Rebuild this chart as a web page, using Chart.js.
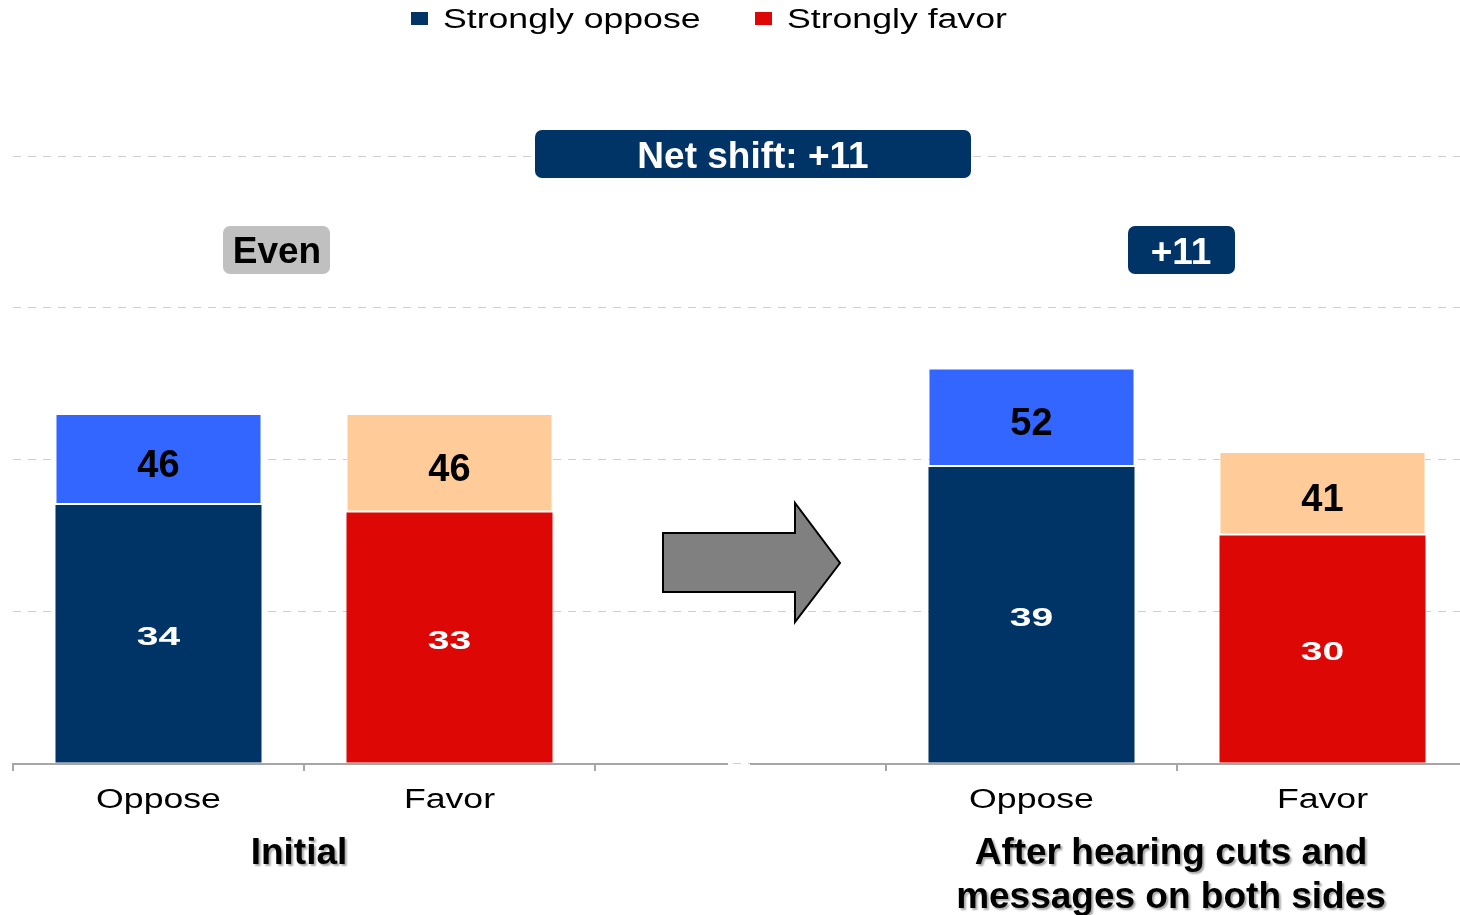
<!DOCTYPE html>
<html>
<head>
<meta charset="utf-8">
<script src="https://cdn.jsdelivr.net/npm/chart.js@4/dist/chart.umd.min.js"></script>
<style>
  html, body { margin: 0; padding: 0; background: #ffffff; overflow: hidden; }
  #wrap { width: 1460px; height: 915px; overflow: hidden; }
  canvas { display: block; }
</style>
</head>
<body>
<div id="wrap"><canvas id="c" width="1468" height="915"></canvas></div>
<script>
// Categories along the x axis (the middle slot holds the arrow)
const categories = ['Oppose', 'Favor', '', 'Oppose', 'Favor'];

// Intensity share (dark segment)
const stronglyOppose = [34, null, null, 39, null];
const stronglyFavor  = [null, 33, null, null, 30];

// Total share (top of each stacked bar)
const totalOppose = [46, null, null, 52, null];
const totalFavor  = [null, 46, null, null, 41];

// Value axis
const yTicks = [0, 20, 40, 60, 80];

// Legend entries and annotation texts
const legendLabels = ['Strongly oppose', 'Strongly favor'];
const groupTitles = [['Initial'], ['After hearing cuts and', 'messages on both sides']];
const badgeTexts = ['Even', '+11', 'Net shift: +11'];

const NAVY = '#003366';
const RED = '#DD0806';
const BLUE = '#3366FF';
const PEACH = '#FFCC99';
const FONT = '"Liberation Sans", Arial, sans-serif';

// Light segments are floating bars from the intense share up to the total
const span = (lo, hi) => hi.map((t, i) => (t == null ? null : [lo[i], t]));

// Text drawn centred on (x, y) with an optional horizontal stretch
function wideText(ctx, text, x, y, font, color, sx, align) {
  ctx.save();
  ctx.translate(x, y + 3);
  ctx.scale(sx, 1);
  ctx.font = font;
  ctx.fillStyle = color;
  ctx.textAlign = align || 'center';
  ctx.textBaseline = 'middle';
  ctx.fillText(text, 0, 0);
  ctx.restore();
}

function roundBox(ctx, x0, y0, x1, y1, r, fill) {
  ctx.save();
  ctx.beginPath();
  ctx.roundRect(x0, y0, x1 - x0, y1 - y0, r);
  ctx.fillStyle = fill;
  ctx.fill();
  ctx.restore();
}

const decorations = {
  id: 'decorations',
  afterDraw(chart) {
    const ctx = chart.ctx;
    const area = chart.chartArea;
    const xs = chart.scales.x;

    // axis line, broken between the two panels
    ctx.save();
    ctx.strokeStyle = '#a6a6a6';
    ctx.lineWidth = 2;
    ctx.beginPath();
    ctx.moveTo(area.left, area.bottom + 1);
    ctx.lineTo(728, area.bottom + 1);
    ctx.moveTo(750, area.bottom + 1);
    ctx.lineTo(area.right, area.bottom + 1);
    ctx.stroke();
    ctx.restore();

    // category labels
    categories.forEach((c, i) => {
      if (!c) return;
      wideText(ctx, c, xs.getPixelForValue(i), 798, '27px ' + FONT, '#000', 1.32);
    });

    // value labels: intense share inside dark segment, total inside light segment
    chart.data.datasets.forEach((ds, di) => {
      const meta = chart.getDatasetMeta(di);
      meta.data.forEach((bar, i) => {
        const v = ds.data[i];
        if (v == null) return;
        const cy = (bar.y + bar.base) / 2;
        if (ds.role === 'strong') {
          wideText(ctx, String(v), bar.x, cy + 1, 'bold 26px ' + FONT, '#fff', 1.5);
        } else {
          wideText(ctx, String(v[1]), bar.x, cy + 4, 'bold 38px ' + FONT, '#000', 1.0);
        }
      });
    });

    // shift arrow in the middle slot
    ctx.save();
    ctx.beginPath();
    ctx.moveTo(663, 533);
    ctx.lineTo(795, 533);
    ctx.lineTo(795, 503);
    ctx.lineTo(840, 563);
    ctx.lineTo(795, 622);
    ctx.lineTo(795, 592);
    ctx.lineTo(663, 592);
    ctx.closePath();
    ctx.fillStyle = '#808080';
    ctx.fill();
    ctx.strokeStyle = '#000';
    ctx.lineWidth = 2;
    ctx.stroke();
    ctx.restore();

    // badges
    roundBox(ctx, 223, 226, 330, 274, 7, '#C0C0C0');
    wideText(ctx, badgeTexts[0], 277, 250, 'bold 37px ' + FONT, '#000', 1.0);
    roundBox(ctx, 1128, 226, 1235, 274, 7, NAVY);
    wideText(ctx, badgeTexts[1], 1181, 251, 'bold 37px ' + FONT, '#fff', 1.0);
    roundBox(ctx, 535, 130, 971, 178, 7, NAVY);
    wideText(ctx, badgeTexts[2], 753, 155, 'bold 37px ' + FONT, '#fff', 1.0);

    // legend
    const legendItems = [
      { text: legendLabels[0], color: NAVY, box: 411, tx: 443 },
      { text: legendLabels[1], color: RED, box: 755, tx: 787 }
    ];
    legendItems.forEach(it => {
      ctx.fillStyle = it.color;
      ctx.fillRect(it.box, 12, 17, 13);
      wideText(ctx, it.text, it.tx, 18, '27px ' + FONT, '#000', 1.32, 'left');
    });

    // panel titles with a soft drop shadow
    ctx.save();
    ctx.shadowColor = 'rgba(0,0,0,0.35)';
    ctx.shadowOffsetX = 2;
    ctx.shadowOffsetY = 2;
    ctx.shadowBlur = 2;
    wideText(ctx, groupTitles[0][0], 299, 851, 'bold 37px ' + FONT, '#000', 1.0);
    wideText(ctx, groupTitles[1][0], 1171, 851, 'bold 37px ' + FONT, '#000', 1.0);
    wideText(ctx, groupTitles[1][1], 1171, 895, 'bold 37px ' + FONT, '#000', 1.0);
    ctx.restore();
  }
};

const lightBorder = { top: 1, left: 1, right: 1, bottom: 2 };

new Chart(document.getElementById('c'), {
  type: 'bar',
  data: {
    labels: categories,
    datasets: [
      { label: legendLabels[0], role: 'strong', data: stronglyOppose, backgroundColor: NAVY, grouped: false },
      { label: legendLabels[1], role: 'strong', data: stronglyFavor, backgroundColor: RED, grouped: false },
      { label: 'Oppose', role: 'total', data: span(stronglyOppose, totalOppose), backgroundColor: BLUE,
        borderColor: 'rgba(255,255,255,0.75)', borderWidth: lightBorder, borderSkipped: false, grouped: false },
      { label: 'Favor', role: 'total', data: span(stronglyFavor, totalFavor), backgroundColor: PEACH,
        borderColor: 'rgba(255,255,255,0.75)', borderWidth: lightBorder, borderSkipped: false, grouped: false }
    ]
  },
  options: {
    responsive: false,
    animation: false,
    devicePixelRatio: 1,
    layout: { padding: { top: 156, left: 13, right: 0, bottom: 0 } },
    datasets: { bar: { barPercentage: 0.708, categoryPercentage: 1.0 } },
    plugins: { legend: { display: false }, tooltip: { enabled: false } },
    scales: {
      x: {
        offset: true,
        grid: { offset: true, drawOnChartArea: false, drawTicks: true, tickLength: 8, color: '#a6a6a6', lineWidth: 2 },
        border: { display: false },
        ticks: { display: false },
        afterFit(s) { s.height = 152; }
      },
      y: {
        min: yTicks[0],
        max: yTicks[yTicks.length - 1],
        afterBuildTicks(s) { s.ticks = yTicks.map(v => ({ value: v })); },
        ticks: { display: false },
        grid: { color: '#cfcfcf', lineWidth: 1, drawTicks: false },
        border: { display: false, dash: [8, 7] },
        afterFit(s) { s.width = 0; }
      }
    }
  },
  plugins: [decorations]
});
</script>
</body>
</html>
